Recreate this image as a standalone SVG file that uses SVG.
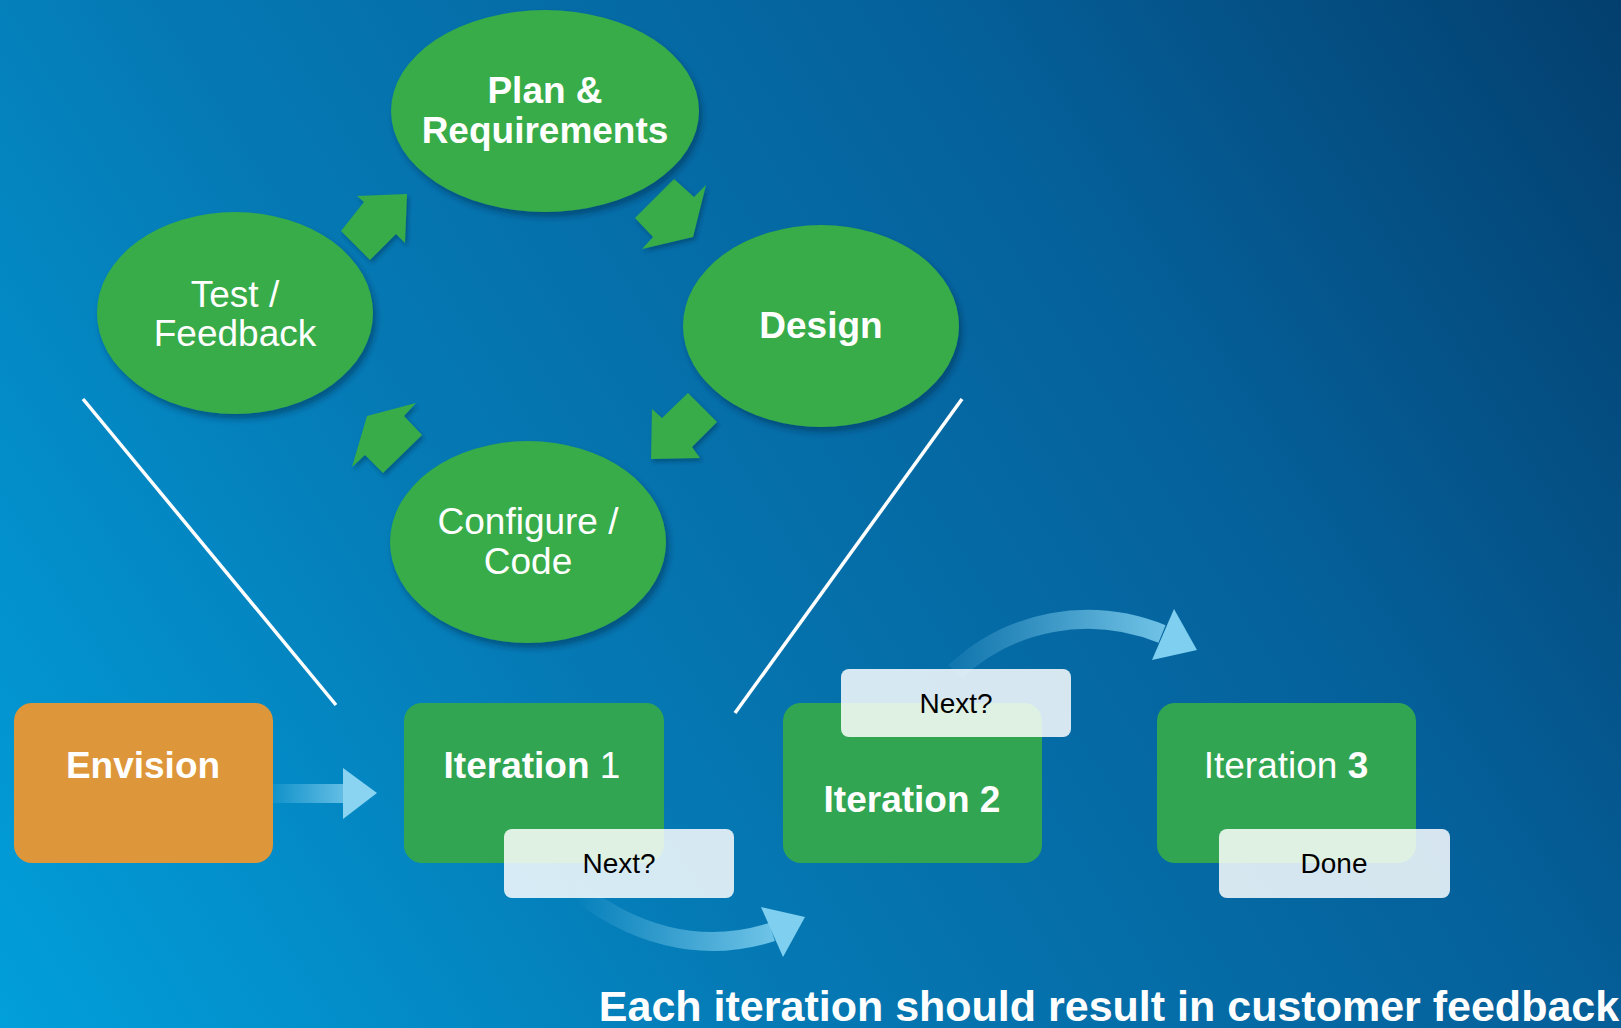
<svg xmlns="http://www.w3.org/2000/svg" width="1621" height="1028" viewBox="0 0 1621 1028">
<style>
.t{font-family:"Liberation Sans",Arial,sans-serif;fill:#fff;text-anchor:middle}
.b{font-weight:bold}
.n{font-family:"Liberation Sans",Arial,sans-serif;fill:#000;text-anchor:middle;font-size:28px}
.ell{fill:#37ac48;filter:url(#sh)}
.box{fill:#31a552}
.q{fill:#fff;fill-opacity:0.84}
.ga{fill:#37ac48;filter:url(#sh2)}
</style>
<defs>
<linearGradient id="bg" gradientUnits="userSpaceOnUse" x1="0" y1="1028" x2="1621" y2="0">
<stop offset="0" stop-color="#019fdb"/>
<stop offset="0.35" stop-color="#0579b4"/>
<stop offset="0.7" stop-color="#05609a"/>
<stop offset="1" stop-color="#033f6e"/>
</linearGradient>
<filter id="sh" x="-10%" y="-10%" width="125%" height="130%">
<feDropShadow dx="3" dy="5" stdDeviation="3" flood-color="#002040" flood-opacity="0.45"/>
</filter>
<filter id="sh2" x="-20%" y="-20%" width="150%" height="150%">
<feDropShadow dx="2" dy="3" stdDeviation="2" flood-color="#002040" flood-opacity="0.4"/>
</filter>
<linearGradient id="ga1" gradientUnits="userSpaceOnUse" x1="273" y1="0" x2="377" y2="0">
<stop offset="0" stop-color="#8ad4f2" stop-opacity="0.1"/>
<stop offset="1" stop-color="#8ad4f2" stop-opacity="1"/>
</linearGradient>
<linearGradient id="ga2" gradientUnits="userSpaceOnUse" x1="575" y1="0" x2="805" y2="0">
<stop offset="0" stop-color="#7fd0f0" stop-opacity="0"/>
<stop offset="1" stop-color="#7fd0f0" stop-opacity="1"/>
</linearGradient>
<linearGradient id="ga3" gradientUnits="userSpaceOnUse" x1="955" y1="0" x2="1197" y2="0">
<stop offset="0" stop-color="#7fd0f0" stop-opacity="0.1"/>
<stop offset="1" stop-color="#7fd0f0" stop-opacity="1"/>
</linearGradient>
</defs>
<rect width="1621" height="1028" fill="url(#bg)"/>

<g id="connectors">
<polygon class="ga" points="407,194 357,196 364,202 341,231 370,260 396,234 405,243"/>
<polygon class="ga" points="674,179 694,197 706,185 693,237 642,249 653,237 635,218"/>
<polygon class="ga" points="688,393 717,422 692,447 700,458 651,459 652,409 662,418"/>
<polygon class="ga" points="416,403 404,416 422,435 383,473 365,455 352,467 367,416"/>
<line x1="83" y1="399" x2="336" y2="705" stroke="#fff" stroke-width="3.5"/>
<line x1="962" y1="399" x2="735" y2="713" stroke="#fff" stroke-width="3.5"/>
<g id="arrow-envision">
<rect x="273" y="784" width="70" height="19" fill="url(#ga1)"/>
<polygon points="343,768 377,793 343,819" fill="#8ad4f2"/>
</g>
<g id="arrow-next1">
<path d="M570 885 C630 935 700 955 772 932" fill="none" stroke="url(#ga2)" stroke-width="19"/>
<polygon points="761,907 805,917 783,957" fill="#7fd0f0"/>
</g>
<g id="arrow-next2">
<path d="M955 672 C1010 620 1090 605 1162 634" fill="none" stroke="url(#ga3)" stroke-width="19"/>
<polygon points="1174,609 1197,650 1152,660" fill="#7fd0f0"/>
</g>
</g>

<g id="plan">
<ellipse class="ell" cx="545" cy="111" rx="154" ry="101"/>
<text class="t b" font-size="37" x="545" y="103">Plan &amp;</text>
<text class="t b" font-size="37" x="545" y="143">Requirements</text>
</g>
<g id="design">
<ellipse class="ell" cx="821" cy="326" rx="138" ry="101"/>
<text class="t b" font-size="37" x="821" y="338">Design</text>
</g>
<g id="test">
<ellipse class="ell" cx="235" cy="313" rx="138" ry="101"/>
<text class="t" font-size="37" x="235" y="307">Test /</text>
<text class="t" font-size="37" x="235" y="346">Feedback</text>
</g>
<g id="configure">
<ellipse class="ell" cx="528" cy="542" rx="138" ry="101"/>
<text class="t" font-size="37" x="528" y="534">Configure /</text>
<text class="t" font-size="37" x="528" y="574">Code</text>
</g>

<g id="envision">
<rect x="14" y="703" width="259" height="160" rx="18" fill="#dd963a"/>
<text class="t b" font-size="37" x="143" y="778">Envision</text>
</g>
<g id="iteration1">
<rect class="box" x="404" y="703" width="260" height="160" rx="18"/>
<text class="t" font-size="37" x="532" y="778"><tspan font-weight="bold">Iteration </tspan>1</text>
</g>
<g id="next1">
<rect class="q" x="504" y="829" width="230" height="69" rx="8"/>
<text class="n" x="619" y="873">Next?</text>
</g>
<g id="iteration2">
<rect class="box" x="783" y="703" width="259" height="160" rx="18"/>
<text class="t b" font-size="37" x="912" y="812">Iteration 2</text>
</g>
<g id="next2">
<rect class="q" x="841" y="669" width="230" height="68" rx="8"/>
<text class="n" x="956" y="713">Next?</text>
</g>
<g id="iteration3">
<rect class="box" x="1157" y="703" width="259" height="160" rx="18"/>
<text class="t" font-size="37" x="1286" y="778">Iteration <tspan font-weight="bold">3</tspan></text>
</g>
<g id="done">
<rect class="q" x="1219" y="829" width="231" height="69" rx="8"/>
<text class="n" x="1334" y="873">Done</text>
</g>

<text class="t b" font-size="43" x="1109" y="1021">Each iteration should result in customer feedback</text>
</svg>
